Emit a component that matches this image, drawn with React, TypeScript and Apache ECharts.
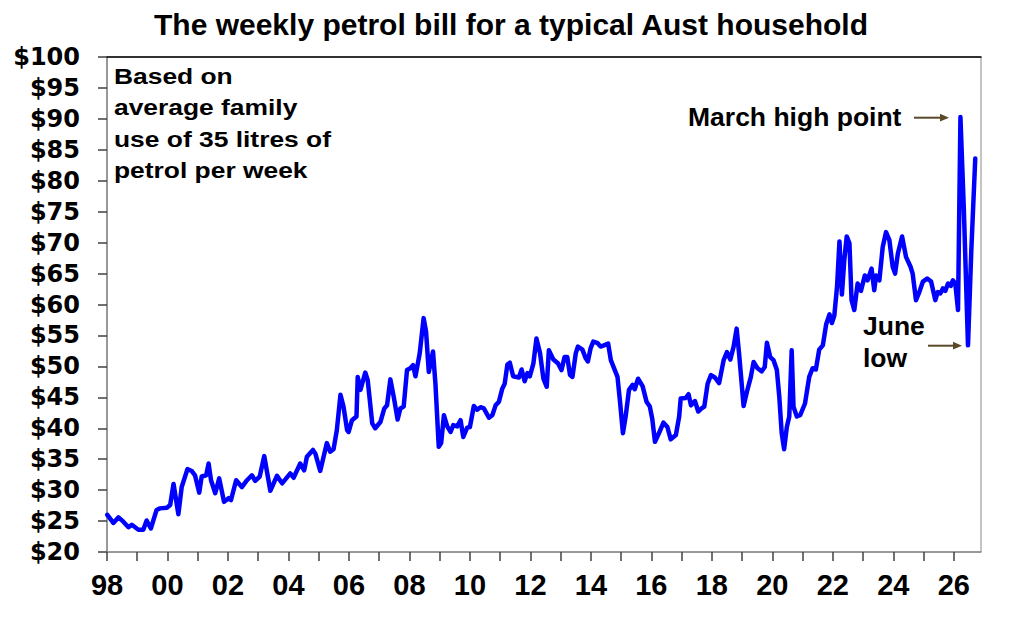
import { useEffect, useRef } from "react"
import * as echarts from "echarts"

// decimal year of each reading
const xYears = [
  1998.01, 1998.21, 1998.38, 1998.54, 1998.71, 1998.82, 1999.04, 1999.2, 1999.31, 1999.45,
  1999.64, 1999.75, 1999.98, 2000.09, 2000.2, 2000.36, 2000.47, 2000.66, 2000.8, 2000.91,
  2001.05, 2001.13, 2001.28, 2001.36, 2001.44, 2001.58, 2001.71, 2001.87, 2002.02, 2002.1,
  2002.27, 2002.46, 2002.63, 2002.79, 2002.9, 2003.05, 2003.2, 2003.4, 2003.62, 2003.79,
  2004.06, 2004.17, 2004.39, 2004.52, 2004.61, 2004.81, 2004.89, 2005.05, 2005.27, 2005.38,
  2005.49, 2005.6, 2005.72, 2005.82, 2005.94, 2005.99, 2006.1, 2006.25, 2006.29, 2006.38,
  2006.54, 2006.62, 2006.77, 2006.87, 2007.04, 2007.17, 2007.26, 2007.37, 2007.48, 2007.61,
  2007.7, 2007.81, 2007.92, 2008.03, 2008.12, 2008.2, 2008.34, 2008.47, 2008.55, 2008.64,
  2008.78, 2008.86, 2008.97, 2009.05, 2009.14, 2009.25, 2009.36, 2009.45, 2009.58, 2009.69,
  2009.78, 2009.91, 2010.0, 2010.13, 2010.24, 2010.35, 2010.46, 2010.63, 2010.74, 2010.85,
  2010.96, 2011.07, 2011.15, 2011.24, 2011.32, 2011.43, 2011.62, 2011.71, 2011.81, 2011.9,
  2011.98, 2012.1, 2012.2, 2012.32, 2012.43, 2012.54, 2012.61, 2012.76, 2012.91, 2013.03,
  2013.13, 2013.22, 2013.31, 2013.39, 2013.5, 2013.57, 2013.72, 2013.83, 2013.9, 2013.99,
  2014.08, 2014.21, 2014.32, 2014.43, 2014.57, 2014.66, 2014.88, 2014.96, 2015.06, 2015.15,
  2015.26, 2015.38, 2015.45, 2015.56, 2015.71, 2015.84, 2015.95, 2016.03, 2016.12, 2016.25,
  2016.4, 2016.53, 2016.64, 2016.81, 2016.92, 2016.97, 2017.14, 2017.23, 2017.31, 2017.44,
  2017.55, 2017.66, 2017.75, 2017.86, 2017.97, 2018.1, 2018.24, 2018.39, 2018.5, 2018.61,
  2018.72, 2018.82, 2018.9, 2019.05, 2019.16, 2019.29, 2019.38, 2019.51, 2019.65, 2019.75,
  2019.82, 2019.93, 2020.04, 2020.15, 2020.23, 2020.31, 2020.39, 2020.48, 2020.56, 2020.64,
  2020.7, 2020.81, 2020.92, 2021.08, 2021.22, 2021.33, 2021.44, 2021.55, 2021.67, 2021.78,
  2021.89, 2021.97, 2022.05, 2022.14, 2022.22, 2022.3, 2022.38, 2022.46, 2022.55, 2022.62,
  2022.71, 2022.82, 2022.93, 2023.06, 2023.15, 2023.28, 2023.37, 2023.43, 2023.54, 2023.65,
  2023.76, 2023.87, 2023.98, 2024.06, 2024.15, 2024.29, 2024.42, 2024.57, 2024.64, 2024.75,
  2024.86, 2024.98, 2025.12, 2025.25, 2025.39, 2025.47, 2025.56, 2025.64, 2025.72, 2025.81,
  2025.9, 2025.97, 2026.05, 2026.14, 2026.22, 2026.33, 2026.47, 2026.58, 2026.71,
]

// weekly petrol bill, $ (35 litres)
const billDollars = [
  26.0, 24.7, 25.6, 24.9, 24.0, 24.4, 23.6, 23.6, 25.1, 23.8,
  26.8, 27.05, 27.15, 27.6, 31.0, 26.1, 30.5, 33.4, 33.1, 32.4,
  29.6, 32.2, 32.4, 34.3, 31.6, 29.5, 31.9, 28.1, 28.7, 28.4,
  31.6, 30.5, 31.6, 32.4, 31.5, 32.2, 35.5, 29.9, 32.3, 31.1,
  32.7, 32.0, 34.3, 33.2, 35.4, 36.5, 35.9, 33.1, 37.6, 36.2,
  36.6, 39.7, 45.4, 43.5, 39.7, 39.4, 41.3, 41.9, 48.3, 46.2,
  49.0, 47.8, 40.8, 40.0, 41.0, 43.2, 43.7, 47.9, 45.1, 41.4,
  43.2, 43.5, 49.4, 49.7, 50.2, 48.4, 52.1, 57.8, 55.6, 49.1,
  52.4, 47.2, 37.0, 37.6, 42.1, 40.3, 39.4, 40.5, 40.3, 41.3,
  38.6, 40.1, 40.2, 43.6, 43.0, 43.4, 43.2, 41.7, 42.1, 43.7,
  44.3, 46.4, 47.2, 50.3, 50.6, 48.4, 48.2, 49.5, 47.6, 48.9,
  48.4, 50.5, 54.5, 52.1, 48.0, 46.7, 52.6, 51.1, 50.5, 49.4,
  51.5, 51.5, 48.6, 48.3, 52.1, 53.2, 52.7, 51.3, 50.8, 52.9,
  54.0, 53.8, 53.2, 53.4, 53.7, 51.0, 48.3, 44.5, 39.2, 41.9,
  46.2, 47.0, 46.3, 48.0, 46.8, 44.3, 43.5, 41.5, 37.8, 39.2,
  40.9, 40.2, 38.2, 38.9, 41.9, 44.8, 44.9, 45.5, 43.7, 44.4,
  42.7, 43.2, 43.5, 47.2, 48.6, 48.2, 47.3, 51.0, 52.3, 51.1,
  53.2, 56.1, 52.1, 43.6, 45.9, 48.3, 50.7, 49.7, 49.2, 49.9,
  53.8, 51.5, 51.0, 49.4, 45.1, 39.2, 36.6, 40.2, 41.9, 52.6,
  43.5, 41.9, 42.1, 44.0, 48.3, 49.7, 49.5, 52.7, 53.4, 56.8,
  58.4, 57.0, 58.2, 62.9, 70.2, 61.6, 67.2, 71.0, 69.9, 60.7,
  59.1, 63.4, 62.2, 64.7, 63.9, 65.8, 62.3, 64.7, 63.9, 69.3,
  71.7, 70.4, 66.1, 65.0, 68.2, 71.0, 67.7, 66.1, 65.0, 60.7,
  62.0, 63.7, 64.2, 63.7, 60.7, 62.0, 61.8, 62.6, 62.2, 63.4,
  63.0, 63.9, 63.4, 59.1, 90.3, 75.8, 53.4, 68.8, 83.6,
]

const yearTicks = Array.from({ length: 29 }, (_, i) => 1998 + i)
const yearLabels = yearTicks.filter((y) => y % 2 === 0)

const noteLines = ["Based on", "average family", "use of 35 litres of", "petrol per week"]

const FONT = "'Liberation Sans', Arial, sans-serif"
const ARROW = "#5a4a2a"

export default function App() {
  const chartRef = useRef<HTMLDivElement>(null)

  useEffect(() => {
    if (!chartRef.current) return
    const chart = echarts.init(chartRef.current, null, { renderer: "svg" })

    const option: echarts.EChartsOption = {
      animation: false,
      backgroundColor: "#fff",
      grid: { left: 107, right: 42, top: 57, bottom: 80, show: true, borderColor: "#8a8a8a", borderWidth: 1 },
      xAxis: [
        {
          type: "value",
          min: 1998,
          max: 2026.9,
          interval: 1,
          splitLine: { show: false },
          axisLine: { lineStyle: { color: "#8a8a8a", width: 1.5 } },
          axisTick: { inside: false, length: 9, customValues: yearTicks, lineStyle: { color: "#404040", width: 1.5 } },
          axisLabel: {
            margin: 18,
            customValues: yearLabels,
            fontFamily: FONT,
            fontWeight: "bold",
            fontSize: 29,
            color: "#000",
            formatter: (v: number) => (Math.round(v) % 2 === 0 ? String(Math.round(v) % 100).padStart(2, "0") : ""),
          },
        },
        {
          type: "value",
          position: "top",
          min: 1998,
          max: 2026.9,
          axisLine: { lineStyle: { color: "#000", width: 1.5 } },
          axisTick: { show: false },
          axisLabel: { show: false },
          splitLine: { show: false },
        },
      ],
      yAxis: {
        type: "value",
        min: 20,
        max: 100,
        interval: 5,
        splitLine: { show: false },
        axisLine: { show: true, lineStyle: { color: "#8a8a8a", width: 1.5 } },
        axisTick: { show: true, inside: false, length: 9, lineStyle: { color: "#404040", width: 1.5 } },
        axisLabel: {
          margin: 27,
          fontFamily: "'DejaVu Sans', sans-serif",
          fontWeight: "bold",
          fontSize: 24,
          color: "#000",
          formatter: (v: number) => "$" + v,
        },
      },
      series: [
        {
          type: "line",
          xAxisIndex: 0,
          data: xYears.map((t, i) => [t, billDollars[i]]),
          showSymbol: false,
          symbol: "none",
          lineStyle: { color: "#0000ff", width: 4.5, join: "round", cap: "round" },
        },
      ],
      graphic: [
        {
          type: "text",
          x: 511,
          y: 24,
          style: {
            text: "The weekly petrol bill for a typical Aust household",
            font: `bold 30px ${FONT}`,
            fill: "#000",
            textAlign: "center",
            textVerticalAlign: "middle",
          },
        },
        {
          type: "text",
          x: 114,
          y: 61,
          scaleX: 1.2,
          style: {
            text: noteLines.join("\n"),
            font: `bold 22px ${FONT}`,
            lineHeight: 31.2,
            fill: "#000",
            textAlign: "left",
            textVerticalAlign: "top",
          },
        },
        {
          type: "text",
          x: 688,
          y: 117,
          style: {
            text: "March high point",
            font: `bold 26.5px ${FONT}`,
            fill: "#000",
            textAlign: "left",
            textVerticalAlign: "middle",
          },
        },
        {
          type: "text",
          x: 863,
          y: 326,
          style: {
            text: "June",
            font: `bold 26.5px ${FONT}`,
            fill: "#000",
            textAlign: "left",
            textVerticalAlign: "middle",
          },
        },
        {
          type: "text",
          x: 863,
          y: 358,
          style: {
            text: "low",
            font: `bold 26.5px ${FONT}`,
            fill: "#000",
            textAlign: "left",
            textVerticalAlign: "middle",
          },
        },
        // arrows
        { type: "line", shape: { x1: 914, y1: 117.7, x2: 942, y2: 117.7 }, style: { stroke: ARROW, lineWidth: 2 } },
        { type: "polygon", shape: { points: [[949, 117.7], [940, 113.8], [940, 121.6]] }, style: { fill: ARROW } },
        { type: "line", shape: { x1: 928, y1: 345.7, x2: 955, y2: 345.7 }, style: { stroke: ARROW, lineWidth: 2 } },
        { type: "polygon", shape: { points: [[962, 345.7], [953, 341.8], [953, 349.6]] }, style: { fill: ARROW } },
      ],
    }

    chart.setOption(option)
    return () => chart.dispose()
  }, [])

  return <div ref={chartRef} style={{ position: "absolute", left: 0, top: 0, width: 1023, height: 632 }} />
}
